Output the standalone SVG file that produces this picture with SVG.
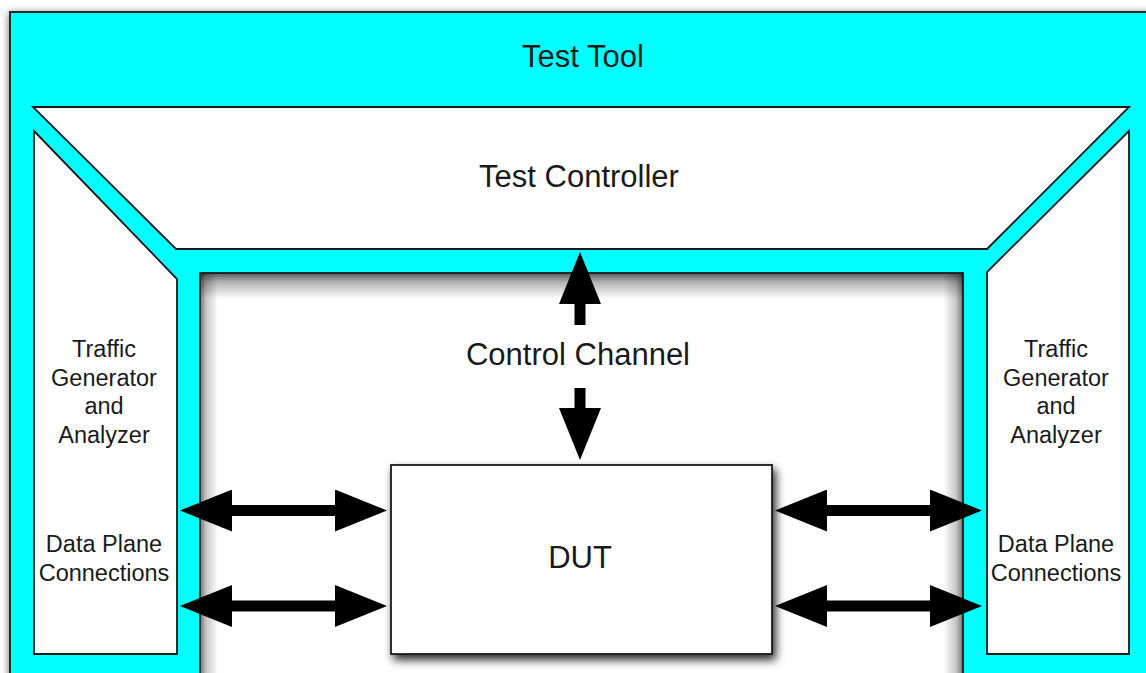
<svg xmlns="http://www.w3.org/2000/svg" width="1146" height="673" viewBox="0 0 1146 673">
  <defs>
    <style>
      .frame { fill: #00FFFF; stroke: #1a1a1a; stroke-width: 1.8; }
      .box { fill: #FFFFFF; stroke: #1a1a1a; stroke-width: 1.8; stroke-linejoin: miter; }
      .big { font-family: "Liberation Sans", Arial, Helvetica, sans-serif; font-size: 31px; fill: #1a1a1a; text-anchor: middle; }
      .small { font-family: "Liberation Sans", Arial, Helvetica, sans-serif; font-size: 23.5px; fill: #1a1a1a; text-anchor: middle; }
      .conn { stroke: #000; stroke-width: 11; fill: none; }
    </style>
    <filter id="outerShadow" x="-5%" y="-5%" width="110%" height="110%">
      <feDropShadow dx="0" dy="2" stdDeviation="4" flood-color="#000" flood-opacity="0.6"/>
    </filter>
    <filter id="dropShadow" x="-10%" y="-10%" width="125%" height="125%">
      <feDropShadow dx="3" dy="5" stdDeviation="5" flood-color="#000" flood-opacity="0.85"/>
    </filter>
    <linearGradient id="shTop" x1="0" y1="0" x2="0" y2="1">
      <stop offset="0" stop-color="#000" stop-opacity="0.65"/>
      <stop offset="0.35" stop-color="#000" stop-opacity="0.3"/>
      <stop offset="1" stop-color="#000" stop-opacity="0"/>
    </linearGradient>
    <linearGradient id="shLeft" x1="0" y1="0" x2="1" y2="0">
      <stop offset="0" stop-color="#000" stop-opacity="0.55"/>
      <stop offset="0.35" stop-color="#000" stop-opacity="0.22"/>
      <stop offset="1" stop-color="#000" stop-opacity="0"/>
    </linearGradient>
    <linearGradient id="shRight" x1="1" y1="0" x2="0" y2="0">
      <stop offset="0" stop-color="#000" stop-opacity="0.55"/>
      <stop offset="0.35" stop-color="#000" stop-opacity="0.22"/>
      <stop offset="1" stop-color="#000" stop-opacity="0"/>
    </linearGradient>
    <marker id="head" viewBox="0 0 52 42" refX="22" refY="21" markerWidth="52" markerHeight="42" markerUnits="userSpaceOnUse" orient="auto-start-reverse">
      <path d="M0,0 L52,21 L0,42 Z" fill="#000"/>
    </marker>
  </defs>

  <rect width="1146" height="673" fill="#FFFFFF"/>

  <g id="test-tool">
    <rect class="frame" x="10" y="12" width="1160" height="690" filter="url(#outerShadow)"/>
    <text class="big" x="583" y="67">Test Tool</text>
  </g>

  <g id="sut-area">
    <rect x="200" y="273" width="763" height="430" fill="#FFFFFF"/>
    <rect x="200" y="273" width="18" height="430" fill="url(#shLeft)"/>
    <rect x="943" y="273" width="20" height="430" fill="url(#shRight)"/>
    <rect x="200" y="273" width="763" height="26" fill="url(#shTop)"/>
    <rect x="200" y="273" width="763" height="430" fill="none" stroke="#1a1a1a" stroke-width="1.8"/>
  </g>

  <g id="test-controller">
    <polygon class="box" points="33,107 1129,107 987,249 176,249"/>
    <text class="big" x="579" y="187">Test Controller</text>
  </g>

  <g id="tga-left">
    <polygon class="box" points="34,131 177,279 177,654 34,654"/>
    <text class="small" x="104" y="357">Traffic</text>
    <text class="small" x="104" y="386">Generator</text>
    <text class="small" x="104" y="414">and</text>
    <text class="small" x="104" y="443">Analyzer</text>
    <text class="small" x="104" y="552">Data Plane</text>
    <text class="small" x="104" y="581">Connections</text>
  </g>

  <g id="tga-right">
    <polygon class="box" points="1129,131 987,272 987,654 1129,654"/>
    <text class="small" x="1056" y="357">Traffic</text>
    <text class="small" x="1056" y="386">Generator</text>
    <text class="small" x="1056" y="414">and</text>
    <text class="small" x="1056" y="443">Analyzer</text>
    <text class="small" x="1056" y="552">Data Plane</text>
    <text class="small" x="1056" y="581">Connections</text>
  </g>

  <g id="dut">
    <rect class="box" x="391" y="465" width="381" height="189" filter="url(#dropShadow)"/>
    <text class="big" x="580" y="568">DUT</text>
  </g>

  <g id="control-channel">
    <text class="big" x="578" y="365">Control Channel</text>
  </g>

  <g id="connectors">
    <path class="conn" d="M210,510.5 L357,510.5" marker-start="url(#head)" marker-end="url(#head)"/>
    <path class="conn" d="M210,606 L357,606" marker-start="url(#head)" marker-end="url(#head)"/>
    <path class="conn" d="M805,510.5 L952,510.5" marker-start="url(#head)" marker-end="url(#head)"/>
    <path class="conn" d="M805,606 L952,606" marker-start="url(#head)" marker-end="url(#head)"/>
    <path class="conn" d="M580,325 L580,282" marker-end="url(#head)"/>
    <path class="conn" d="M580,388 L580,430" marker-end="url(#head)"/>
  </g>
</svg>
